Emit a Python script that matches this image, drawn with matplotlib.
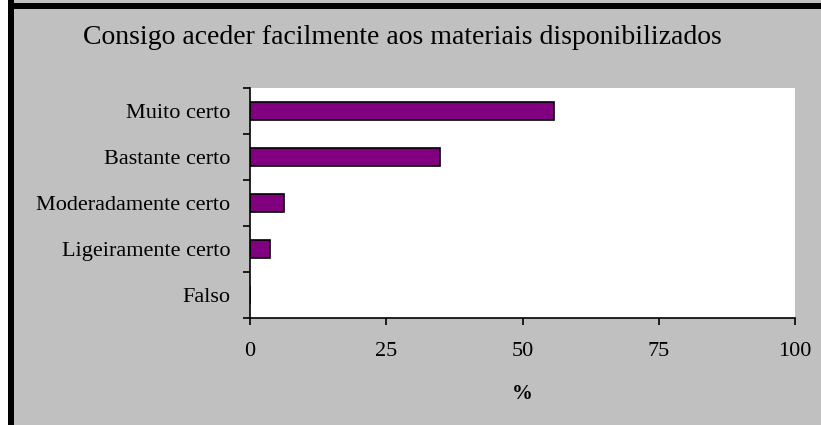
import matplotlib.pyplot as plt
from matplotlib.patches import Rectangle

# dados do gráfico
categorias = ["Muito certo", "Bastante certo", "Moderadamente certo",
              "Ligeiramente certo", "Falso"]
valores = [55.8, 34.8, 6.2, 3.7, 0.0]
ticks_x = [0, 25, 50, 75, 100]
titulo = "Consigo aceder facilmente aos materiais disponibilizados"

plt.rcParams['font.family'] = ['Liberation Serif', 'DejaVu Serif']

W, H = 821, 425
fig = plt.figure(figsize=(W / 100, H / 100), dpi=100, facecolor="#C0C0C0")

# moldura: faixa branca à esquerda, linhas pretas à esquerda e em cima
fig.patches.append(Rectangle((0, 0), 8 / W, 1, transform=fig.transFigure,
                             facecolor="white", edgecolor="none", zorder=0))
fig.patches.append(Rectangle((8 / W, 0), 6 / W, 1, transform=fig.transFigure,
                             facecolor="black", edgecolor="none", zorder=1))
fig.patches.append(Rectangle((8 / W, 1 - 9 / H), 1, 6 / H, transform=fig.transFigure,
                             facecolor="black", edgecolor="none", zorder=1))

# área do gráfico (px)
x0, x1, y0, y1 = 250, 795, 88, 318
ax = fig.add_axes([x0 / W, 1 - y1 / H, (x1 - x0) / W, (y1 - y0) / H])
ax.set_facecolor("white")

pos = list(range(len(categorias)))
ax.barh(pos, valores, height=0.41, color="#800080", edgecolor="black", linewidth=1.2)
ax.set_ylim(len(categorias) - 0.5, -0.5)
ax.set_xlim(0, 100)

ax.set_yticks(pos)
ax.set_yticklabels(categorias, fontsize=16)
ax.set_yticks([p - 0.5 for p in range(len(categorias) + 1)], minor=True)
ax.tick_params(axis="y", which="major", length=0, pad=14)
ax.tick_params(axis="y", which="minor", length=5, width=1.2, direction="out")

ax.set_xticks(ticks_x)
ax.set_xticklabels([str(t) for t in ticks_x], fontsize=16)
ax.tick_params(axis="x", length=5, width=1.2, direction="out", pad=12)

for lado in ["top", "right"]:
    ax.spines[lado].set_visible(False)
for lado in ["left", "bottom"]:
    ax.spines[lado].set_linewidth(1.2)

ax.set_xlabel("%", fontsize=15, fontweight="bold", labelpad=17)

fig.text(402 / W, 1 - 38 / H, titulo, fontsize=20,
         ha="center", va="center")

fig.savefig("out.png", dpi=100, facecolor=fig.get_facecolor())
